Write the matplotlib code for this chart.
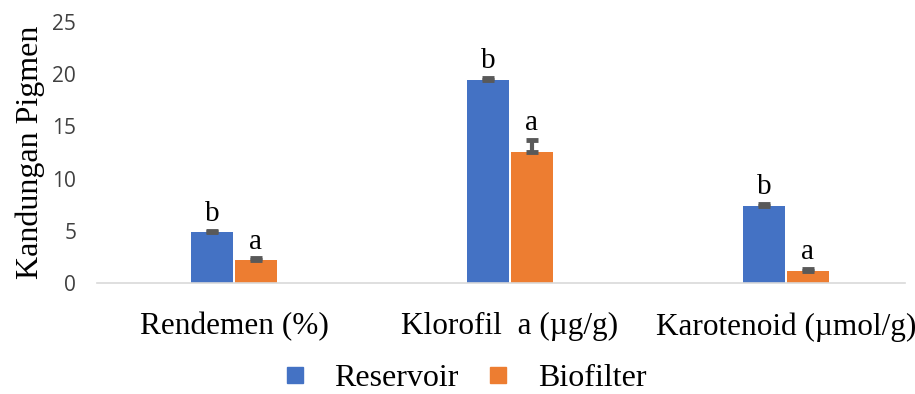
import numpy as np
import matplotlib.pyplot as plt

categories = ["Rendemen (%)", "Klorofil  a (µg/g)", "Karotenoid (µmol/g)"]
reservoir = [4.85, 19.45, 7.4]
reservoir_err = [0.15, 0.2, 0.2]
biofilter = [2.25, 12.55, 1.15]
biofilter_err = [0.1, 1.15, 0.2]
reservoir_letters = ["b", "b", "b"]
biofilter_letters = ["a", "a", "a"]

serif = ["Liberation Serif", "DejaVu Serif"]
blue = "#4472C4"
orange = "#ED7D31"
err_color = "#595959"

fig = plt.figure(figsize=(9.15, 3.94), dpi=100)
ax = fig.add_axes([97 / 915, 1 - 283 / 394, (905 - 97) / 915, (283 - 22) / 394])

x = np.arange(len(categories))
w = 0.15
gap = 0.008
xr = x - w / 2 - gap / 2
xb = x + w / 2 + gap / 2

ax.bar(xr, reservoir, w, color=blue, label="Reservoir")
ax.bar(xb, biofilter, w, color=orange, label="Biofilter")

# plus-only error bars, as in the source chart
for xs, vals, errs in [(xr, reservoir, reservoir_err), (xb, biofilter, biofilter_err)]:
    ax.errorbar(xs, vals, yerr=[np.zeros(len(errs)), errs], fmt="none",
                ecolor=err_color, elinewidth=3, capsize=4, capthick=3.5, zorder=3)

for xs, vals, errs, letters in [(xr, reservoir, reservoir_err, reservoir_letters),
                                (xb, biofilter, biofilter_err, biofilter_letters)]:
    for xi, v, e, t in zip(xs, vals, errs, letters):
        ax.annotate(t, (xi, v + e), xytext=(0, 7), textcoords="offset points",
                    ha="center", va="baseline", family=serif, fontsize=21)

ax.set_xlim(-137 / 276, (905 - 234) / 276)
ax.set_ylim(0, 25)
ax.set_yticks(range(0, 26, 5))
ax.set_xticks(x)
ax.set_xticklabels(categories, family=serif, fontsize=22.5)
ax.tick_params(axis="x", length=0, pad=21)
ax.tick_params(axis="y", length=0, pad=15, labelsize=15, labelcolor="#404040")
for lab in ax.get_yticklabels():
    lab.set_family(["Open Sans", "DejaVu Sans"])

for s in ["top", "right", "left"]:
    ax.spines[s].set_visible(False)
ax.spines["bottom"].set_color("#D9D9D9")
ax.spines["bottom"].set_linewidth(1.2)

ax.set_ylabel("Kandungan Pigmen", family=serif, fontsize=23, labelpad=5)

handles = [plt.Line2D([], [], marker="s", color=c, linestyle="none", markersize=11.5)
           for c in (blue, orange)]
fig.legend(handles, ["Reservoir", "Biofilter"], loc="center",
           bbox_to_anchor=(0.508, 0.04), ncol=2, frameon=False,
           prop={"family": serif, "size": 23}, handlelength=0.7,
           handletextpad=0.88, columnspacing=0.9, borderpad=0)

fig.savefig("out.png", dpi=100)
